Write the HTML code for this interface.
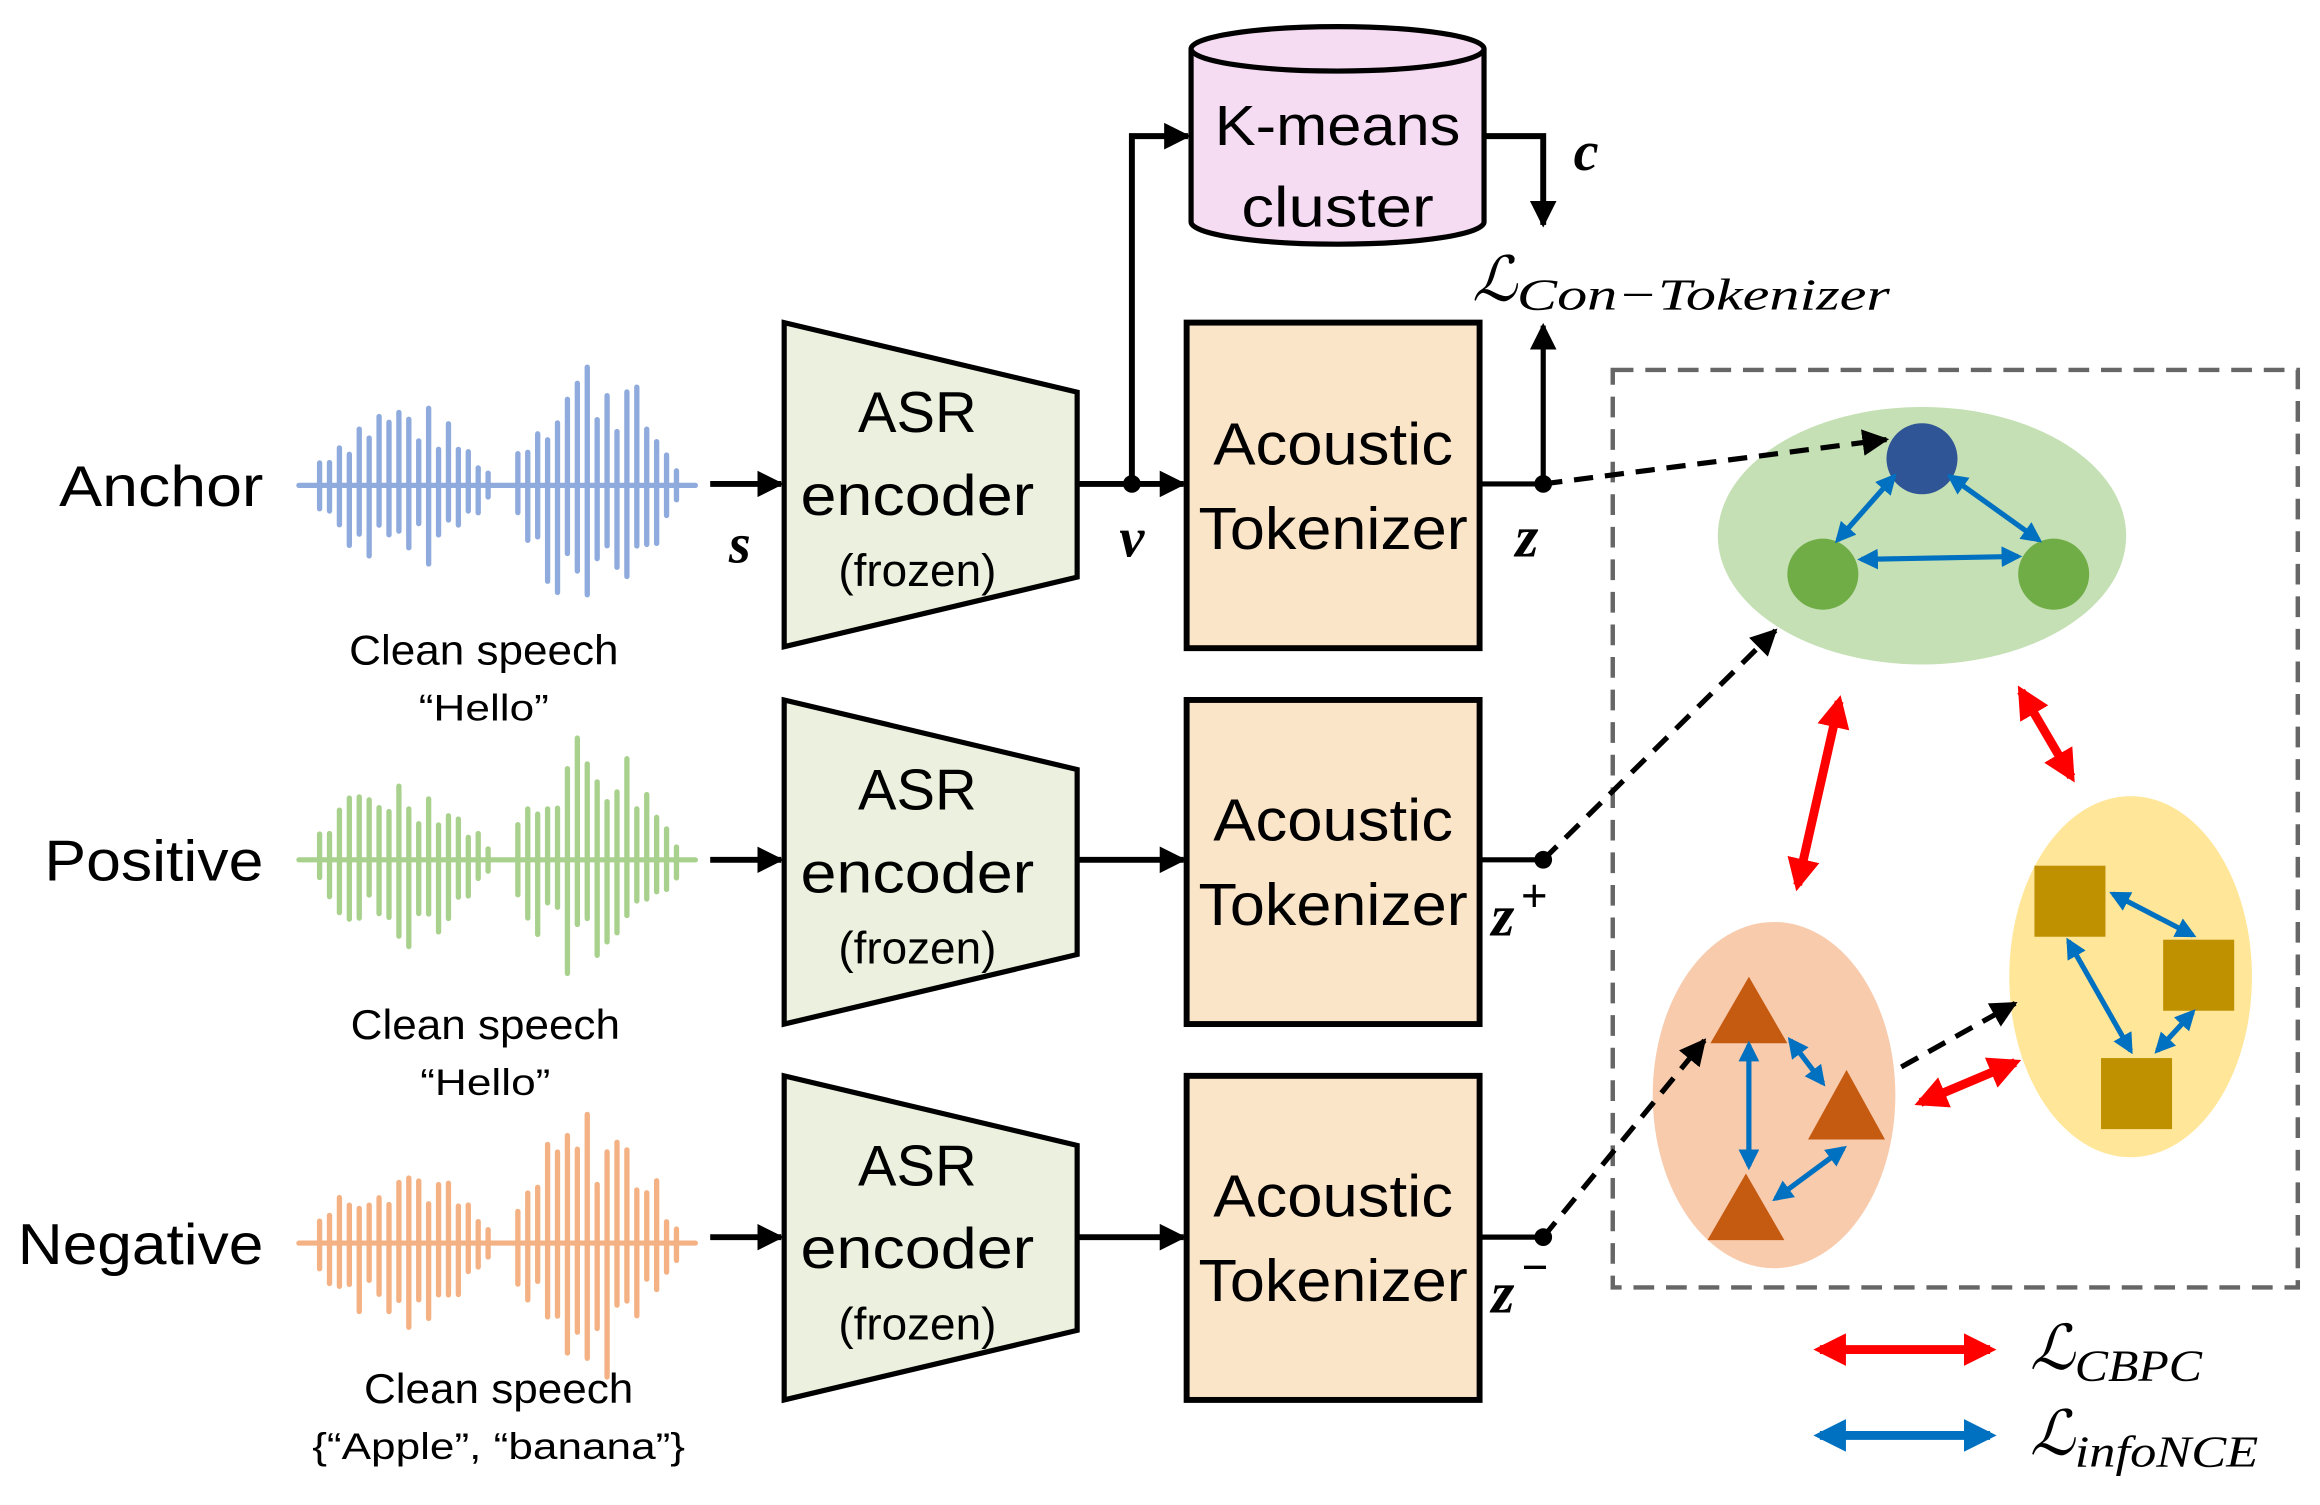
<!DOCTYPE html>
<html><head><meta charset="utf-8"><style>
html,body{margin:0;padding:0;background:#fff;}
svg{display:block;}
text{font-family:"Liberation Sans","DejaVu Sans",sans-serif;}
.m{font-family:"Liberation Serif","DejaVu Serif",serif;font-style:italic;font-weight:bold;}
.s{font-family:"Liberation Serif","DejaVu Serif",serif;font-style:italic;}
</style></head><body>
<svg id="svg" width="2320" height="1505" viewBox="0 0 1568 1017" preserveAspectRatio="none" xmlns="http://www.w3.org/2000/svg">
<defs>
<marker id="ak" viewBox="0 0 10 10" refX="9" refY="5" markerWidth="18" markerHeight="18" orient="auto" markerUnits="userSpaceOnUse"><path d="M0,0 L10,5 L0,10z" fill="#000"/></marker>
<marker id="ar" viewBox="0 0 10 10" refX="8" refY="5" markerWidth="22" markerHeight="22" orient="auto-start-reverse" markerUnits="userSpaceOnUse"><path d="M0,0 L10,5 L0,10z" fill="#ff0000"/></marker>
<marker id="abl" viewBox="0 0 10 10" refX="8" refY="5" markerWidth="14" markerHeight="14" orient="auto-start-reverse" markerUnits="userSpaceOnUse"><path d="M0,0 L10,5 L0,10z" fill="#0070c0"/></marker>
<marker id="abl2" viewBox="0 0 10 10" refX="8" refY="5" markerWidth="22" markerHeight="22" orient="auto-start-reverse" markerUnits="userSpaceOnUse"><path d="M0,0 L10,5 L0,10z" fill="#0070c0"/></marker>
</defs>

<text x="40" y="342" font-size="39" textLength="138" lengthAdjust="spacingAndGlyphs">Anchor</text>
<text x="30" y="595" font-size="39" textLength="148" lengthAdjust="spacingAndGlyphs">Positive</text>
<text x="12" y="854" font-size="39" textLength="166" lengthAdjust="spacingAndGlyphs">Negative</text>

<g id="waves"></g>

<g font-size="28">
<text x="236" y="449" textLength="182" lengthAdjust="spacingAndGlyphs">Clean speech</text>
<text x="283" y="487" font-size="25" textLength="88" lengthAdjust="spacingAndGlyphs">“Hello”</text>
<text x="237" y="702" textLength="182" lengthAdjust="spacingAndGlyphs">Clean speech</text>
<text x="284" y="740" font-size="25" textLength="88" lengthAdjust="spacingAndGlyphs">“Hello”</text>
<text x="246" y="948" textLength="182" lengthAdjust="spacingAndGlyphs">Clean speech</text>
<text x="211" y="986" font-size="25" textLength="252" lengthAdjust="spacingAndGlyphs">{“Apple”, “banana”}</text>
</g>

<g stroke="#000" stroke-width="4">
<line x1="480" y1="327" x2="528" y2="327" marker-end="url(#ak)"/>
<line x1="480" y1="581" x2="528" y2="581" marker-end="url(#ak)"/>
<line x1="480" y1="836" x2="528" y2="836" marker-end="url(#ak)"/>
</g>
<text x="500" y="380" class="m" font-size="38" text-anchor="middle">s</text>

<g fill="#ebf1de" stroke="#000" stroke-width="3.5">
<polygon points="530,218 728,265 728,390 530,437"/>
<polygon points="530,473 728,520 728,645 530,692"/>
<polygon points="530,727 728,774 728,899 530,946"/>
</g>
<g text-anchor="middle">
<text x="620" y="292" font-size="39">ASR</text><text x="620" y="348" font-size="39" textLength="158" lengthAdjust="spacingAndGlyphs">encoder</text><text x="620" y="396" font-size="31">(frozen)</text>
<text x="620" y="547" font-size="39">ASR</text><text x="620" y="603" font-size="39" textLength="158" lengthAdjust="spacingAndGlyphs">encoder</text><text x="620" y="651" font-size="31">(frozen)</text>
<text x="620" y="801" font-size="39">ASR</text><text x="620" y="857" font-size="39" textLength="158" lengthAdjust="spacingAndGlyphs">encoder</text><text x="620" y="905" font-size="31">(frozen)</text>
</g>

<g stroke="#000" stroke-width="4" fill="none">
<line x1="728" y1="327" x2="800" y2="327" marker-end="url(#ak)"/>
<polyline points="765,327 765,92 803,92" marker-end="url(#ak)"/>
<line x1="728" y1="581" x2="800" y2="581" marker-end="url(#ak)"/>
<line x1="728" y1="836" x2="800" y2="836" marker-end="url(#ak)"/>
</g>
<circle cx="765" cy="327" r="6"/>
<text x="765" y="376" class="m" font-size="38" text-anchor="middle">v</text>

<path d="M805,33 L805,150 A99,15 0 0 0 1003,150 L1003,33" fill="#f5dcf3" stroke="#000" stroke-width="3.5"/>
<ellipse cx="904" cy="33" rx="99" ry="15" fill="#f5dcf3" stroke="#000" stroke-width="3.5"/>
<text x="904" y="98" font-size="38" text-anchor="middle" textLength="166" lengthAdjust="spacingAndGlyphs">K-means</text>
<text x="904" y="153" font-size="38" text-anchor="middle" textLength="130" lengthAdjust="spacingAndGlyphs">cluster</text>
<polyline points="1003,92 1043,92 1043,152" stroke="#000" stroke-width="4" fill="none" marker-end="url(#ak)"/>
<text x="1072" y="115" class="m" font-size="38" text-anchor="middle">c</text>
<text x="995" y="203" class="s" font-size="42">ℒ<tspan font-size="30" dy="6" textLength="252" lengthAdjust="spacingAndGlyphs">Con−Tokenizer</tspan></text>

<g fill="#fbe5c8" stroke="#000" stroke-width="4">
<rect x="802" y="218" width="198" height="220"/>
<rect x="802" y="473" width="198" height="219"/>
<rect x="802" y="727" width="198" height="219"/>
</g>
<g text-anchor="middle" font-size="40">
<text x="901" y="314" textLength="162" lengthAdjust="spacingAndGlyphs">Acoustic</text><text x="901" y="371" textLength="182" lengthAdjust="spacingAndGlyphs">Tokenizer</text>
<text x="901" y="568" textLength="162" lengthAdjust="spacingAndGlyphs">Acoustic</text><text x="901" y="625" textLength="182" lengthAdjust="spacingAndGlyphs">Tokenizer</text>
<text x="901" y="822" textLength="162" lengthAdjust="spacingAndGlyphs">Acoustic</text><text x="901" y="879" textLength="182" lengthAdjust="spacingAndGlyphs">Tokenizer</text>
</g>

<g stroke="#000" stroke-width="3.5" fill="none">
<line x1="1000" y1="327" x2="1043" y2="327"/>
<line x1="1043" y1="327" x2="1043" y2="220" marker-end="url(#ak)"/>
<line x1="1000" y1="581" x2="1043" y2="581"/>
<line x1="1000" y1="836" x2="1043" y2="836"/>
</g>
<circle cx="1043" cy="327" r="6"/><circle cx="1043" cy="581" r="6"/><circle cx="1043" cy="836" r="6"/>
<text x="1032" y="376" class="m" font-size="40" text-anchor="middle">z</text>
<text x="1008" y="632" class="m" font-size="40">z<tspan font-size="32" dy="-16" dx="4">+</tspan></text>
<text x="1008" y="887" class="m" font-size="40">z<tspan font-size="32" dy="-20" dx="4">−</tspan></text>

<rect x="1090" y="250" width="463" height="620" fill="none" stroke="#666" stroke-width="3" stroke-dasharray="14,8"/>

<ellipse cx="1299" cy="362" rx="138" ry="87" fill="#c5e0b4"/>
<ellipse cx="1199" cy="740" rx="82" ry="117" fill="#f8cbad"/>
<ellipse cx="1440" cy="660" rx="82" ry="122" fill="#ffe699"/>

<g stroke="#000" stroke-width="3.5" stroke-dasharray="13,8" fill="none">
<line x1="1043" y1="327" x2="1275" y2="297" marker-end="url(#ak)"/>
<line x1="1043" y1="581" x2="1200" y2="426" marker-end="url(#ak)"/>
<line x1="1043" y1="836" x2="1152" y2="703" marker-end="url(#ak)"/>
<line x1="1285" y1="721" x2="1362" y2="678" marker-end="url(#ak)"/>
</g>

<circle cx="1299" cy="310" r="24" fill="#2f5597"/>
<circle cx="1232" cy="388" r="24" fill="#70ad47"/>
<circle cx="1388" cy="388" r="24" fill="#70ad47"/>
<g fill="#c55a11">
<polygon points="1182,660 1208,705 1156,705"/>
<polygon points="1248,723 1274,770 1222,770"/>
<polygon points="1180,793 1206,838 1154,838"/>
</g>
<g fill="#bf9000">
<rect x="1375" y="585" width="48" height="48"/>
<rect x="1462" y="635" width="48" height="48"/>
<rect x="1420" y="715" width="48" height="48"/>
</g>

<g stroke="#0070c0" stroke-width="3.5">
<line x1="1280" y1="322" x2="1242" y2="365" marker-start="url(#abl)" marker-end="url(#abl)"/>
<line x1="1318" y1="322" x2="1378" y2="365" marker-start="url(#abl)" marker-end="url(#abl)"/>
<line x1="1258" y1="378" x2="1364" y2="376" marker-start="url(#abl)" marker-end="url(#abl)"/>
<line x1="1182" y1="706" x2="1182" y2="788" marker-start="url(#abl)" marker-end="url(#abl)"/>
<line x1="1210" y1="703" x2="1232" y2="732" marker-start="url(#abl)" marker-end="url(#abl)"/>
<line x1="1246" y1="776" x2="1200" y2="810" marker-start="url(#abl)" marker-end="url(#abl)"/>
<line x1="1428" y1="604" x2="1482" y2="632" marker-start="url(#abl)" marker-end="url(#abl)"/>
<line x1="1398" y1="636" x2="1440" y2="710" marker-start="url(#abl)" marker-end="url(#abl)"/>
<line x1="1482" y1="684" x2="1458" y2="710" marker-start="url(#abl)" marker-end="url(#abl)"/>
</g>

<g stroke="#ff0000" stroke-width="6">
<line x1="1243" y1="474" x2="1215" y2="598" marker-start="url(#ar)" marker-end="url(#ar)"/>
<line x1="1366" y1="467" x2="1400" y2="525" marker-start="url(#ar)" marker-end="url(#ar)"/>
<line x1="1298" y1="745" x2="1362" y2="718" marker-start="url(#ar)" marker-end="url(#ar)"/>
<line x1="1230" y1="912" x2="1345" y2="912" marker-start="url(#ar)" marker-end="url(#ar)"/>
</g>
<line x1="1230" y1="970" x2="1345" y2="970" stroke="#0070c0" stroke-width="6" marker-start="url(#abl2)" marker-end="url(#abl2)"/>
<text x="1372" y="925" class="s" font-size="42">ℒ<tspan font-size="30" dy="8" textLength="86" lengthAdjust="spacingAndGlyphs">CBPC</tspan></text>
<text x="1372" y="983" class="s" font-size="42">ℒ<tspan font-size="30" dy="8" textLength="124" lengthAdjust="spacingAndGlyphs">infoNCE</tspan></text>
</svg>
<script>
(function(){
var g=document.getElementById('waves');
var rows=[[328,'#8faadc'],[581,'#a9d18e'],[840,'#f4b183']];
var ns='http://www.w3.org/2000/svg';
var seed=7;function rnd(){seed=(seed*9301+49297)%233280;return seed/233280;}
function seg(x1,y1,x2,y2,c,w){var l=document.createElementNS(ns,'line');l.setAttribute('x1',x1);l.setAttribute('x2',x2);l.setAttribute('y1',y1);l.setAttribute('y2',y2);l.setAttribute('stroke',c);l.setAttribute('stroke-width',w);l.setAttribute('stroke-linecap','round');g.appendChild(l);}
rows.forEach(function(r,ri){
  var y=r[0],c=r[1];
  seg(202,y,470,y,c,3.5);
  var bursts=[[216,330,55],[350,458,88]];
  bursts.forEach(function(b){
    for(var x=b[0];x<=b[1];x+=6.7){
      var t=(x-b[0])/(b[1]-b[0]);
      var env=Math.sin(Math.PI*Math.min(1,Math.max(0,t*0.9+0.08)));
      var up=(0.35+0.65*rnd())*env*b[2]+6;
      var dn=(0.35+0.65*rnd())*env*b[2]+6;
      seg(x,y-up,x,y+dn,c,3.6);
    }
  });
});
})();
</script>
</body></html>
